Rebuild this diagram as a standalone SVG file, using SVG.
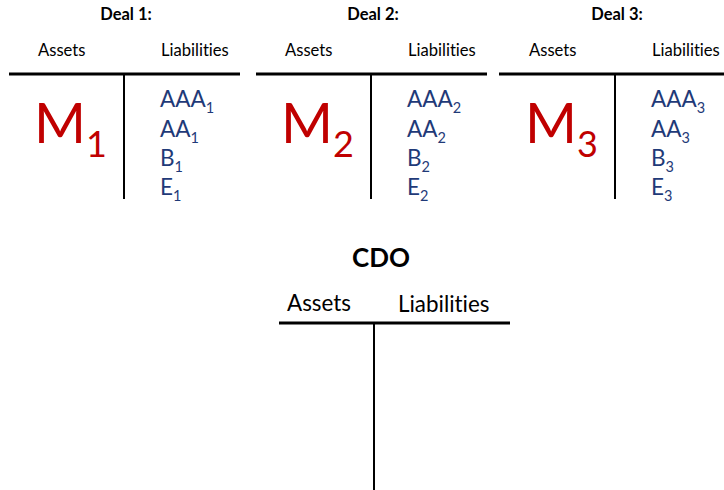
<svg xmlns="http://www.w3.org/2000/svg" width="724" height="490" viewBox="0 0 724 490">
  <style>
    text { font-family: Lato, "Liberation Sans", sans-serif; font-variant-ligatures: none; }
    .title { font-weight: bold; font-size: 16.5px; fill: #000; text-anchor: middle; }
    .head { font-size: 16.6px; fill: #000; }
    .asset { font-size: 56px; fill: #C00000; }
    .asset-sub { font-size: 36px; }
    .liab { font-size: 22.5px; fill: #1F3A78; }
    .liab-sub { font-size: 14.5px; }
    .hbar { stroke: #000; stroke-width: 3; }
    .vbar { stroke: #000; stroke-width: 2; }
    .cdo-title { font-weight: bold; font-size: 26px; fill: #000; text-anchor: middle; }
    .cdo-head { font-size: 22.4px; fill: #000; }
  </style>

  <!-- Deal 1 balance sheet -->
  <g id="deal1">
    <text class="title" x="126" y="20">Deal 1:</text>
    <text class="head" x="38" y="56">Assets</text>
    <text class="head" x="161" y="56">Liabilities</text>
    <line class="hbar" x1="9" y1="74" x2="240" y2="74"/>
    <line class="vbar" x1="124" y1="74" x2="124" y2="199"/>
    <text class="asset" x="34" y="143">M<tspan class="asset-sub" dy="14">1</tspan></text>
    <text class="liab" x="160" y="107">AAA<tspan class="liab-sub" dy="6">1</tspan></text>
    <text class="liab" x="160" y="137">AA<tspan class="liab-sub" dy="6">1</tspan></text>
    <text class="liab" x="160" y="166">B<tspan class="liab-sub" dy="6">1</tspan></text>
    <text class="liab" x="160" y="195">E<tspan class="liab-sub" dy="6">1</tspan></text>
  </g>

  <!-- Deal 2 balance sheet -->
  <g id="deal2" transform="translate(247,0)">
    <text class="title" x="126" y="20">Deal 2:</text>
    <text class="head" x="38" y="56">Assets</text>
    <text class="head" x="161" y="56">Liabilities</text>
    <line class="hbar" x1="9" y1="74" x2="240" y2="74"/>
    <line class="vbar" x1="124" y1="74" x2="124" y2="199"/>
    <text class="asset" x="34" y="143">M<tspan class="asset-sub" dy="14">2</tspan></text>
    <text class="liab" x="160" y="107">AAA<tspan class="liab-sub" dy="6">2</tspan></text>
    <text class="liab" x="160" y="137">AA<tspan class="liab-sub" dy="6">2</tspan></text>
    <text class="liab" x="160" y="166">B<tspan class="liab-sub" dy="6">2</tspan></text>
    <text class="liab" x="160" y="195">E<tspan class="liab-sub" dy="6">2</tspan></text>
  </g>

  <!-- Deal 3 balance sheet -->
  <g id="deal3" transform="translate(491,0)">
    <text class="title" x="126" y="20">Deal 3:</text>
    <text class="head" x="38" y="56">Assets</text>
    <text class="head" x="161" y="56">Liabilities</text>
    <line class="hbar" x1="8" y1="74" x2="240" y2="74"/>
    <line class="vbar" x1="124" y1="74" x2="124" y2="199"/>
    <text class="asset" x="34" y="143">M<tspan class="asset-sub" dy="14">3</tspan></text>
    <text class="liab" x="160" y="107">AAA<tspan class="liab-sub" dy="6">3</tspan></text>
    <text class="liab" x="160" y="137">AA<tspan class="liab-sub" dy="6">3</tspan></text>
    <text class="liab" x="160" y="166">B<tspan class="liab-sub" dy="6">3</tspan></text>
    <text class="liab" x="160" y="195">E<tspan class="liab-sub" dy="6">3</tspan></text>
  </g>

  <!-- CDO balance sheet (empty) -->
  <g id="cdo">
    <text class="cdo-title" x="381" y="267">CDO</text>
    <text class="cdo-head" x="287" y="311">Assets</text>
    <text class="cdo-head" x="398" y="312">Liabilities</text>
    <line class="hbar" x1="279" y1="323" x2="510" y2="323"/>
    <line class="vbar" x1="374" y1="323" x2="374" y2="490"/>
  </g>
</svg>
